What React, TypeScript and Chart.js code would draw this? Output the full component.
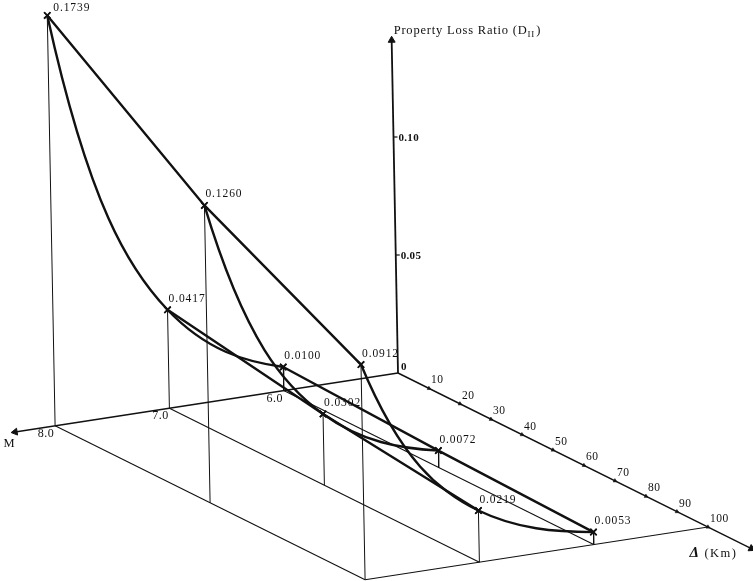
import React, { useEffect, useRef } from "react";
import { Chart, registerables } from "chart.js";

Chart.register(...registerables);

// ---------------- data ----------------
const magnitudes = [8.0, 7.0, 6.0];
const distancesKm = [0, 50, 100];
const lossM8 = [0.1739, 0.126, 0.0912];
const lossM7 = [0.0417, 0.0302, 0.0219];
const lossM6 = [0.01, 0.0072, 0.0053];
const lossLabelsM8 = ["0.1739", "0.1260", "0.0912"];
const lossLabelsM7 = ["0.0417", "0.0302", "0.0219"];
const lossLabelsM6 = ["0.0100", "0.0072", "0.0053"];
const magnitudeTickLabels = ["8.0", "7.0", "6.0"];
const distanceTicks = [10, 20, 30, 40, 50, 60, 70, 80, 90, 100];
const lossTicks = [0.05, 0.1];
const lossTickLabels = ["0.05", "0.10"];
const magnitudeAxisRange = [5, 8.35];
const distanceAxisRange = [0, 114];
const lossAxisMax = 0.141;
const axisTitle = "Property Loss Ratio (D";
const axisTitleSub = "II";
const magnitudeAxisTitle = "M";
const distanceAxisTitle = "(Km)";

const lossTable = [lossM8, lossM7, lossM6];
const lossLabelTable = [lossLabelsM8, lossLabelsM7, lossLabelsM6];

// ---------------- oblique projection (view) ----------------
const VIEW = {
  originX: 398,
  originY: 373,
  perMagX: -114.3,
  perMagY: 17.6,
  perKmX: 3.1,
  perKmY: 1.54,
  perLossX: -45,
  perLossY: -2360,
  baseMag: 5,
};

function project(m: number, d: number, v: number) {
  const a = m - VIEW.baseMag;
  return {
    x: VIEW.originX + a * VIEW.perMagX + d * VIEW.perKmX + v * VIEW.perLossX,
    y: VIEW.originY + a * VIEW.perMagY + d * VIEW.perKmY + v * VIEW.perLossY,
  };
}

function rotationOf(a: { x: number; y: number }, b: { x: number; y: number }) {
  return (Math.atan2(b.x - a.x, -(b.y - a.y)) * 180) / Math.PI;
}

// log-slope of the values at each point (for a smooth decay curve through the points)
function logSlopes(params: number[], values: number[]) {
  const n = values.length;
  return values.map((_, i) => {
    const a = Math.max(0, i - 1);
    const b = Math.min(n - 1, i + 1);
    return Math.log(values[b] / values[a]) / (params[b] - params[a]);
  });
}

const INK = "#111111";
const SERIF = "'Liberation Serif', 'DejaVu Serif', serif";

export default function App() {
  const ref = useRef<HTMLCanvasElement>(null);

  useEffect(() => {
    const canvas = ref.current;
    if (!canvas) return;
    const datasets: any[] = [];

    const thinLine = (data: any[], width = 1) => ({
      data,
      showLine: true,
      borderColor: INK,
      borderWidth: width,
      pointRadius: 0,
      pointHoverRadius: 0,
      tension: 0,
      fill: false,
    });

    // base plane grid lines along distance for each magnitude
    const dMax = distancesKm[distancesKm.length - 1];
    magnitudes.forEach((m) => {
      datasets.push(thinLine([project(m, distancesKm[0], 0), project(m, dMax, 0)], 1.1));
    });
    // front edge at the largest distance
    datasets.push(thinLine([project(magnitudes[0], dMax, 0), project(magnitudeAxisRange[0], dMax, 0)], 1.1));

    // drop lines
    magnitudes.forEach((m, i) => {
      distancesKm.forEach((d, j) => {
        datasets.push(thinLine([project(m, d, lossTable[i][j]), project(m, d, 0)], 1));
      });
    });

    // axes with arrow heads
    const axisLine = (a: any, b: any, width: number) => ({
      data: [a, b],
      showLine: true,
      borderColor: INK,
      borderWidth: width,
      pointStyle: "triangle",
      pointRadius: [0, 4],
      pointRotation: [0, rotationOf(a, b)],
      pointBackgroundColor: INK,
      pointBorderColor: INK,
      pointBorderWidth: 1,
      tension: 0,
    });
    const mA = project(magnitudeAxisRange[0], 0, 0);
    const mB = project(magnitudeAxisRange[1], 0, 0);
    datasets.push(axisLine(mA, mB, 1.4));
    const dA = project(magnitudeAxisRange[0], distanceAxisRange[0], 0);
    const dB = project(magnitudeAxisRange[0], distanceAxisRange[1], 0);
    datasets.push(axisLine(dA, dB, 1.4));
    const vA = project(magnitudeAxisRange[0], 0, 0);
    const vB = project(magnitudeAxisRange[0], 0, lossAxisMax);
    datasets.push(axisLine(vA, vB, 1.8));

    // distance tick marks
    datasets.push({
      data: distanceTicks.map((d) => project(magnitudeAxisRange[0], d, 0)),
      showLine: false,
      pointStyle: "triangle",
      pointRadius: 2.2,
      pointRotation: rotationOf(dA, dB),
      pointBackgroundColor: INK,
      pointBorderColor: INK,
      pointBorderWidth: 0.5,
    });

    const curveStyle = {
      showLine: true,
      borderColor: INK,
      borderWidth: 2.4,
      pointStyle: "crossRot",
      pointRadius: 4.5,
      pointBorderColor: INK,
      pointBorderWidth: 1.6,
    };

    // loss vs distance for each magnitude (straight segments)
    magnitudes.forEach((m, i) => {
      datasets.push({
        ...curveStyle,
        tension: 0,
        data: distancesKm.map((d, j) => project(m, d, lossTable[i][j])),
      });
    });
    // loss vs magnitude for each distance (smooth decay curves)
    distancesKm.forEach((d, j) => {
      const vals = magnitudes.map((_, i) => lossTable[i][j]);
      const ks = logSlopes(magnitudes, vals);
      const tangents = magnitudes.map((m, i) => {
        const p0 = project(m, d, vals[i]);
        const p1 = project(m + 1, d, vals[i] * (1 + ks[i]));
        return { x: p1.x - p0.x, y: p1.y - p0.y };
      });
      datasets.push({
        ...curveStyle,
        tension: 0.3,
        data: magnitudes.map((m, i) => project(m, d, vals[i])),
        decay: { params: magnitudes, tangents },
      });
    });

    // smooth decay curves: set bezier handles from the point tangents
    const decayCurvePlugin = {
      id: "decayCurves",
      beforeDatasetDraw(chart: any, args: any) {
        const ds = chart.data.datasets[args.index];
        const spec = ds && ds.decay;
        if (!spec) return;
        const meta = args.meta;
        const line = meta.dataset;
        if (line && typeof line.updateControlPoints === "function") {
          line.updateControlPoints(chart.chartArea, meta.iScale ? meta.iScale.axis : "x");
        }
        const xs = chart.scales.x;
        const ys = chart.scales.y;
        const pts = meta.data;
        for (let i = 0; i < pts.length - 1; i++) {
          const h = spec.params[i + 1] - spec.params[i];
          const a = ds.data[i];
          const b = ds.data[i + 1];
          const ta = spec.tangents[i];
          const tb = spec.tangents[i + 1];
          pts[i].cp2x = xs.getPixelForValue(a.x + (h / 3) * ta.x);
          pts[i].cp2y = ys.getPixelForValue(a.y + (h / 3) * ta.y);
          pts[i + 1].cp1x = xs.getPixelForValue(b.x - (h / 3) * tb.x);
          pts[i + 1].cp1y = ys.getPixelForValue(b.y - (h / 3) * tb.y);
        }
        if (line) line._path = undefined;
      },
    };

    const labelPlugin = {
      id: "labels3d",
      afterDatasetsDraw(chart: any) {
        const { ctx } = chart;
        const xs = chart.scales.x;
        const ys = chart.scales.y;
        const px = (p: { x: number; y: number }) => ({
          x: xs.getPixelForValue(p.x),
          y: ys.getPixelForValue(p.y),
        });
        ctx.save();
        ctx.fillStyle = INK;
        ctx.strokeStyle = INK;
        const setSpacing = (s: string) => {
          try {
            (ctx as any).letterSpacing = s;
          } catch (e) {}
        };

        // value labels
        ctx.font = `11.5px ${SERIF}`;
        ctx.textAlign = "left";
        ctx.textBaseline = "middle";
        setSpacing("0.9px");
        magnitudes.forEach((m, i) => {
          distancesKm.forEach((d, j) => {
            const p = px(project(m, d, lossTable[i][j]));
            const ly = p.y - 11;
            if (ly < 8) {
              ctx.fillText(lossLabelTable[i][j], p.x + 6, 8);
            } else {
              ctx.fillText(lossLabelTable[i][j], p.x + 1, ly);
            }
          });
        });

        // magnitude tick labels
        ctx.font = `12px ${SERIF}`;
        ctx.textAlign = "center";
        setSpacing("0.5px");
        magnitudes.forEach((m, i) => {
          const p = px(project(m, 0, 0));
          ctx.fillText(magnitudeTickLabels[i], p.x - 9, p.y + 8);
        });

        // distance tick labels
        ctx.font = `11.5px ${SERIF}`;
        ctx.textAlign = "left";
        setSpacing("0.5px");
        distanceTicks.forEach((d) => {
          const p = px(project(magnitudeAxisRange[0], d, 0));
          ctx.fillText(String(d), p.x + 2, p.y - 8);
        });

        // loss ticks and labels
        ctx.lineWidth = 1.2;
        ctx.font = `bold 11px ${SERIF}`;
        ctx.textAlign = "left";
        setSpacing("0.3px");
        lossTicks.forEach((v, k) => {
          const p = px(project(magnitudeAxisRange[0], 0, v));
          ctx.beginPath();
          ctx.moveTo(p.x, p.y);
          ctx.lineTo(p.x + 4, p.y);
          ctx.stroke();
          ctx.fillText(lossTickLabels[k], p.x + 5, p.y + 1);
        });
        const o = px(project(magnitudeAxisRange[0], 0, 0));
        ctx.fillText("0", o.x + 3, o.y - 6);

        // vertical axis title
        const top = px(project(magnitudeAxisRange[0], 0, lossAxisMax));
        ctx.font = `12.5px ${SERIF}`;
        ctx.textBaseline = "alphabetic";
        setSpacing("0.8px");
        let tx = top.x + 2;
        const ty = top.y - 6;
        ctx.fillText(axisTitle, tx, ty);
        tx += ctx.measureText(axisTitle).width;
        ctx.font = `9px ${SERIF}`;
        ctx.fillText(axisTitleSub, tx, ty + 3);
        tx += ctx.measureText(axisTitleSub).width + 1;
        ctx.font = `12.5px ${SERIF}`;
        ctx.fillText(")", tx, ty);

        // M axis title
        const mEnd = px(project(magnitudeAxisRange[1], 0, 0));
        ctx.font = `12.5px ${SERIF}`;
        ctx.textAlign = "center";
        ctx.textBaseline = "middle";
        setSpacing("0px");
        ctx.fillText(magnitudeAxisTitle, mEnd.x - 6, mEnd.y + 12);

        // distance axis title
        const dEnd = px(project(magnitudeAxisRange[0], distanceAxisRange[1], 0));
        ctx.textAlign = "left";
        ctx.font = `italic bold 15px ${SERIF}`;
        ctx.fillText("\u0394", dEnd.x - 62, dEnd.y + 5);
        ctx.font = `12.5px ${SERIF}`;
        setSpacing("1.5px");
        ctx.fillText(distanceAxisTitle, dEnd.x - 47, dEnd.y + 5);
        setSpacing("0px");
        ctx.restore();
      },
    };

    const chart = new Chart(canvas, {
      type: "scatter",
      data: { datasets },
      options: {
        responsive: false,
        maintainAspectRatio: false,
        animation: false,
        events: [],
        layout: { padding: 0, autoPadding: false },
        plugins: { legend: { display: false }, tooltip: { enabled: false } },
        scales: {
          x: { type: "linear", display: false, min: 0, max: 753 },
          y: { type: "linear", display: false, min: 0, max: 581, reverse: true },
        },
      },
      plugins: [decayCurvePlugin, labelPlugin],
    } as any);

    return () => chart.destroy();
  }, []);

  return (
    <div style={{ position: "absolute", left: 0, top: 0, width: 753, height: 581, background: "#ffffff" }}>
      <canvas ref={ref} width={753} height={581} style={{ display: "block" }} />
    </div>
  );
}
